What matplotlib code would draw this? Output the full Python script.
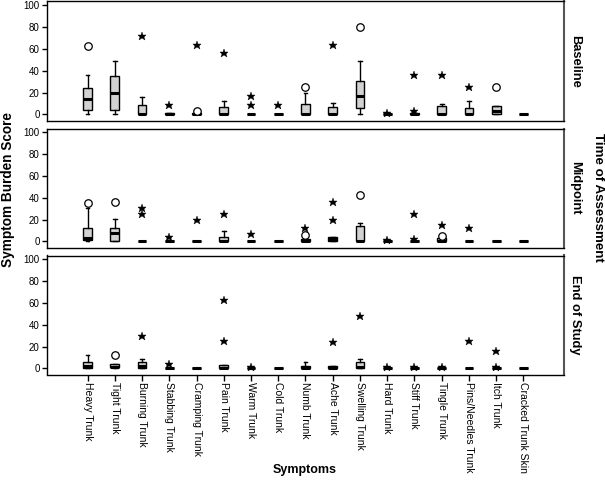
import matplotlib
matplotlib.use("Agg")
import matplotlib.pyplot as plt

plt.rcParams['font.family'] = ['Liberation Sans', 'DejaVu Sans']

symptoms = ["Heavy Trunk", "Tight Trunk", "Burning Trunk", "Stabbing Trunk", "Cramping Trunk",
            "Pain Trunk", "Warm Trunk", "Cold Trunk", "Numb Trunk", "Ache Trunk",
            "Swelling Trunk", "Hard Trunk", "Stiff Trunk", "Tingle Trunk",
            "Pins/Needles Trunk", "Itch Trunk", "Cracked Trunk Skin"]
panels = ["Baseline", "Midpoint", "End of Study"]
y_ticks = [0, 20, 40, 60, 80, 100]

# Baseline
base_lo = [0, 0, 0, 0, 0, 0, 0, 0, 0, 0, 0, 0, 0, 0, 0, 0, 0]
base_q1 = [4, 4, 0, 0, 0, 0, 0, 0, 0, 0, 5.5, 0, 0, 0, 0, 0, 0]
base_med = [14, 20, 0, 0, 0, 0, 0, 0, 0, 0, 16.5, 0, 0, 0, 0, 3, 0]
base_q3 = [24, 35, 8.5, 1.5, 1.5, 7, 0, 0, 10, 6.5, 30.5, 0, 1.5, 7.5, 5.5, 8, 0]
base_hi = [36, 49, 16, 1.5, 1.5, 12, 0, 0, 20, 10.5, 49, 0, 1.5, 9.5, 12.5, 8, 0]
base_circ = [[63], [], [], [], [3.5], [], [], [], [25], [], [80], [], [], [], [], [25], []]
base_star = [[], [], [72], [9], [64], [56], [8.5, 16.5], [9], [], [64], [], [1.5], [3.5, 36], [36], [25], [], []]

# Midpoint
mid_lo = [0, 0, 0, 0, 0, 0, 0, 0, 0, 0, 0, 0, 0, 0, 0, 0, 0]
mid_q1 = [1, 0.5, 0, 0, 0, 0, 0, 0, 0, 0, 0, 0, 0, 0, 0, 0, 0]
mid_med = [3, 8, 0, 0, 0, 0, 0, 0, 0, 2, 0, 0, 0, 0, 0, 0, 0]
mid_q3 = [12.5, 12.5, 0, 0, 0, 4.5, 0, 0, 2, 4.5, 14.5, 0, 0, 3, 0, 0, 0]
mid_hi = [30.5, 20.5, 0, 0, 0, 9.5, 0, 0, 2, 4.5, 17, 0, 0, 3, 0, 0, 0]
mid_circ = [[35], [36], [], [], [], [], [], [], [6], [], [42.5], [], [], [5], [], [], []]
mid_star = [[], [], [25.5, 30.5], [4], [20], [25.5], [6.5], [], [12], [20, 36.5], [], [1.5], [2, 25.5], [15.5], [12], [], []]

# End of Study
end_lo = [0, 0, 0, 0, 0, 0, 0, 0, 0, 0, 0, 0, 0, 0, 0, 0, 0]
end_q1 = [0.5, 1, 0.5, 0, 0, 0, 0, 0, 0, 0, 0, 0, 0, 0, 0, 0, 0]
end_med = [2, 1, 2, 0, 0, 0, 0, 0, 0, 0, 1, 0, 0, 0, 0, 0, 0]
end_q3 = [6, 4.5, 6, 0, 0, 3.5, 0, 0, 2.5, 2.5, 5.5, 0, 0, 0, 0, 0, 0]
end_hi = [12, 4.5, 9, 0, 0, 3.5, 0, 0, 6, 2.5, 8.5, 0, 0, 0, 0, 0, 0]
end_circ = [[], [12], [], [], [], [], [], [], [], [], [], [], [], [], [], [], []]
end_star = [[], [], [30], [4], [], [25, 63], [1], [], [], [24], [48], [1], [1], [1], [25], [1, 16], []]

panel_data = [
    (base_lo, base_q1, base_med, base_q3, base_hi, base_circ, base_star),
    (mid_lo, mid_q1, mid_med, mid_q3, mid_hi, mid_circ, mid_star),
    (end_lo, end_q1, end_med, end_q3, end_hi, end_circ, end_star),
]

W, H = 605, 480
fig = plt.figure(figsize=(W / 100, H / 100), dpi=100)

left_px, right_px = 46.7, 564.3
panel_h = 119.0
tops = [1.5, 128.5, 255.5]
positions = list(range(len(symptoms)))

for i, (lo, q1, med, q3, hi, circ, star) in enumerate(panel_data):
    top = tops[i]
    ax = fig.add_axes([left_px / W, 1 - (top + panel_h) / H, (right_px - left_px) / W, panel_h / H])
    stats = []
    for j in range(len(symptoms)):
        stats.append(dict(med=med[j], q1=q1[j], q3=q3[j], whislo=lo[j], whishi=hi[j], fliers=[]))
    ax.bxp(stats, positions=positions, widths=0.32, showfliers=False, patch_artist=True,
           boxprops=dict(facecolor='#d2d2d2', edgecolor='black', linewidth=1.0),
           medianprops=dict(color='black', linewidth=2.2),
           whiskerprops=dict(color='black', linewidth=1.0),
           capprops=dict(color='black', linewidth=1.0), capwidths=0.14)
    for j in range(len(symptoms)):
        for v in circ[j]:
            ax.plot(j, v, marker='o', markersize=5.4, markerfacecolor='white',
                    markeredgecolor='black', markeredgewidth=0.9, linestyle='none', zorder=4)
        for v in star[j]:
            ax.plot(j, v, marker='*', markersize=6.3, color='black', markeredgewidth=0.3,
                    linestyle='none', zorder=4)
    ax.set_xlim(-1.5, len(symptoms) + 0.5)
    ax.set_ylim(-5.5, 103.5)
    ax.set_yticks(y_ticks)
    ax.set_yticklabels([str(t) for t in y_ticks], fontsize=7)
    ax.tick_params(axis='y', direction='out', length=3.5, width=1, pad=1.5, right=False)
    ax.set_xticks(positions)
    if i == 2:
        ax.set_xticklabels(symptoms, rotation=-90, fontsize=7.5, va='top', ha='center')
        ax.tick_params(axis='x', direction='out', length=4, width=1, pad=1.5, top=False)
    else:
        ax.tick_params(axis='x', length=0, labelbottom=False, top=False)
    for s in ax.spines.values():
        s.set_linewidth(1.0)
        s.set_color('black')
    ax.spines['right'].set_color('#555555')
    ax.spines['right'].set_linewidth(1.5)
    ax.text(1.0 + 11 / (right_px - left_px), 0.5, panels[i], transform=ax.transAxes,
            rotation=-90, ha='center', va='center', fontsize=9.3, fontweight='bold')

fig.text(8 / W, 1 - 190 / H, "Symptom Burden Score", rotation=90, ha='center', va='center',
         fontsize=9.8, fontweight='bold')
fig.text(598 / W, 1 - 197 / H, "Time of Assessment", rotation=-90, ha='center', va='center',
         fontsize=9.6, fontweight='bold')
fig.text(305 / W, 1 - 470 / H, "Symptoms", ha='center', va='center', fontsize=9, fontweight='bold')

fig.savefig("out.png", dpi=100, facecolor='white')
